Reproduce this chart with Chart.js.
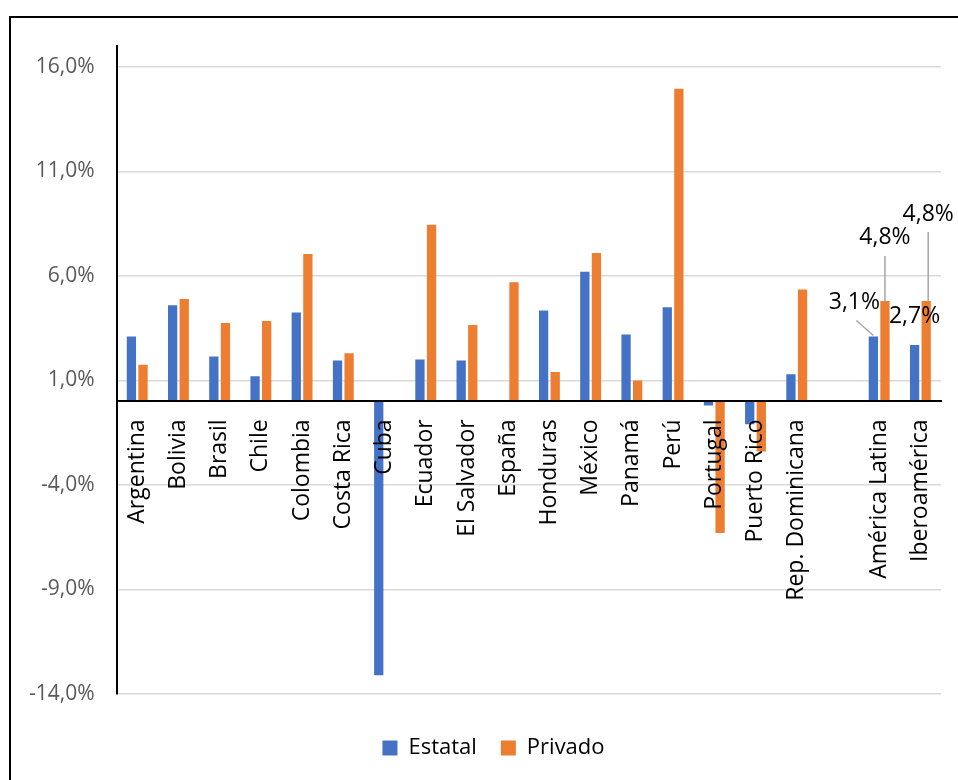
<!DOCTYPE html>
<html>
<head>
<meta charset="utf-8">
<script src="https://cdn.jsdelivr.net/npm/chart.js@4.4.1/dist/chart.umd.min.js"></script>
<style>
  html, body { margin: 0; padding: 0; background: #fff; overflow: hidden; }
  canvas { display: block; }
</style>
</head>
<body>
<canvas id="c" width="958" height="780"></canvas>
<script>
// ---- data ----
const categories = ['Argentina','Bolivia','Brasil','Chile','Colombia','Costa Rica','Cuba','Ecuador','El Salvador','España','Honduras','México','Panamá','Perú','Portugal','Puerto Rico','Rep. Dominicana','','América Latina','Iberoamérica'];
const estatal = [3.1, 4.6, 2.15, 1.2, 4.25, 1.95, -13.1, 2.0, 1.95, null, 4.35, 6.2, 3.2, 4.5, -0.2, -1.1, 1.3, null, 3.1, 2.7];
const privado = [1.75, 4.9, 3.75, 3.85, 7.05, 2.3, null, 8.45, 3.65, 5.7, 1.4, 7.1, 1.0, 14.95, -6.3, -2.4, 5.35, null, 4.8, 4.8];
const seriesNames = ['Estatal', 'Privado'];
const yTicks = [-14, -9, -4, 1, 6, 11, 16];
const yMin = -14, yMax = 17;
// bars that carry a value label: [datasetIndex, categoryIndex]
const labelledBars = [[0, 18], [1, 18], [0, 19], [1, 19]];

// ---- styling / placement of the value labels (relative to bar end) ----
const labelPlacement = [
  { dx: -19, dy: -34, line: [[-17, -16], [0, -1]] },
  { dx: 0,   dy: -64, line: [[0, -45], [0, 0]] },
  { dx: 0,   dy: -28, line: null },
  { dx: 2,   dy: -87, line: [[2, -69], [2, 0]] }
];

const FONT = "'Open Sans', 'Noto Sans', sans-serif";
const fmt = v => v.toFixed(1).replace('.', ',') + '%';

const framePlugin = {
  id: 'frame',
  afterLayout(chart) {
    // centre the legend on the (wider) outer chart frame
    if (chart.legend) chart.legend.left += 46;
  },
  beforeDraw(chart) {
    const ctx = chart.ctx;
    ctx.save();
    ctx.fillStyle = '#fff';
    ctx.fillRect(0, 0, chart.width, chart.height);
    ctx.strokeStyle = '#000';
    ctx.lineWidth = 2;
    ctx.beginPath();
    ctx.moveTo(10, chart.height);
    ctx.lineTo(10, 17);
    ctx.lineTo(chart.width, 17);
    ctx.stroke();
    ctx.restore();
  }
};

const valueLabelPlugin = {
  id: 'valueLabels',
  afterDatasetsDraw(chart) {
    const ctx = chart.ctx;
    ctx.save();
    labelledBars.forEach(([ds, idx], k) => {
      const el = chart.getDatasetMeta(ds).data[idx];
      const v = chart.data.datasets[ds].data[idx];
      if (!el || v == null) return;
      const p = labelPlacement[k];
      if (p.line) {
        ctx.strokeStyle = '#a6a6a6';
        ctx.lineWidth = 1.5;
        ctx.beginPath();
        ctx.moveTo(el.x + p.line[0][0], el.y + p.line[0][1]);
        ctx.lineTo(el.x + p.line[1][0], el.y + p.line[1][1]);
        ctx.stroke();
      }
      ctx.fillStyle = '#000';
      ctx.font = '23px ' + FONT;
      ctx.textAlign = 'center';
      ctx.textBaseline = 'middle';
      ctx.fillText(fmt(v), el.x + p.dx, el.y + p.dy);
    });
    ctx.restore();
  }
};

new Chart(document.getElementById('c'), {
  type: 'bar',
  data: {
    labels: categories,
    datasets: [
      { label: seriesNames[0], data: estatal, backgroundColor: '#4472C4', borderWidth: 0,
        categoryPercentage: 0.563, barPercentage: 0.8 },
      { label: seriesNames[1], data: privado, backgroundColor: '#ED7D31', borderWidth: 0,
        categoryPercentage: 0.563, barPercentage: 0.8 }
    ]
  },
  options: {
    responsive: false,
    animation: false,
    devicePixelRatio: 1,
    layout: { padding: { left: 0, right: 17, top: 46, bottom: 11 } },
    plugins: {
      tooltip: { enabled: false },
      legend: {
        position: 'bottom',
        title: { display: true, text: '', font: { size: 1, lineHeight: 1 }, padding: { top: 18, bottom: 0 } },
        labels: {
          boxWidth: 15, boxHeight: 15, padding: 24,
          color: '#000',
          font: { family: FONT, size: 22 }
        }
      }
    },
    scales: {
      x: {
        position: { y: 0 },
        afterFit: s => { s.paddingLeft = 0; s.paddingRight = 0; },
        grid: { display: false, drawTicks: false },
        border: { display: true, color: '#000', width: 2, z: 1 },
        ticks: {
          autoSkip: false, minRotation: 90, maxRotation: 90, padding: 18, z: 1,
          color: '#000', font: { family: FONT, size: 23 }
        }
      },
      y: {
        min: yMin, max: yMax,
        afterFit: s => { s.width = 116.6; },
        afterBuildTicks: s => { s.ticks = yTicks.map(v => ({ value: v })); },
        grid: { color: '#d9d9d9', lineWidth: 1.5, drawTicks: false },
        border: { display: true, color: '#000', width: 2 },
        ticks: {
          padding: 22, color: '#595959',
          font: { family: FONT, size: 21 },
          callback: v => fmt(v)
        }
      }
    }
  },
  plugins: [framePlugin, valueLabelPlugin]
});
</script>
</body>
</html>
